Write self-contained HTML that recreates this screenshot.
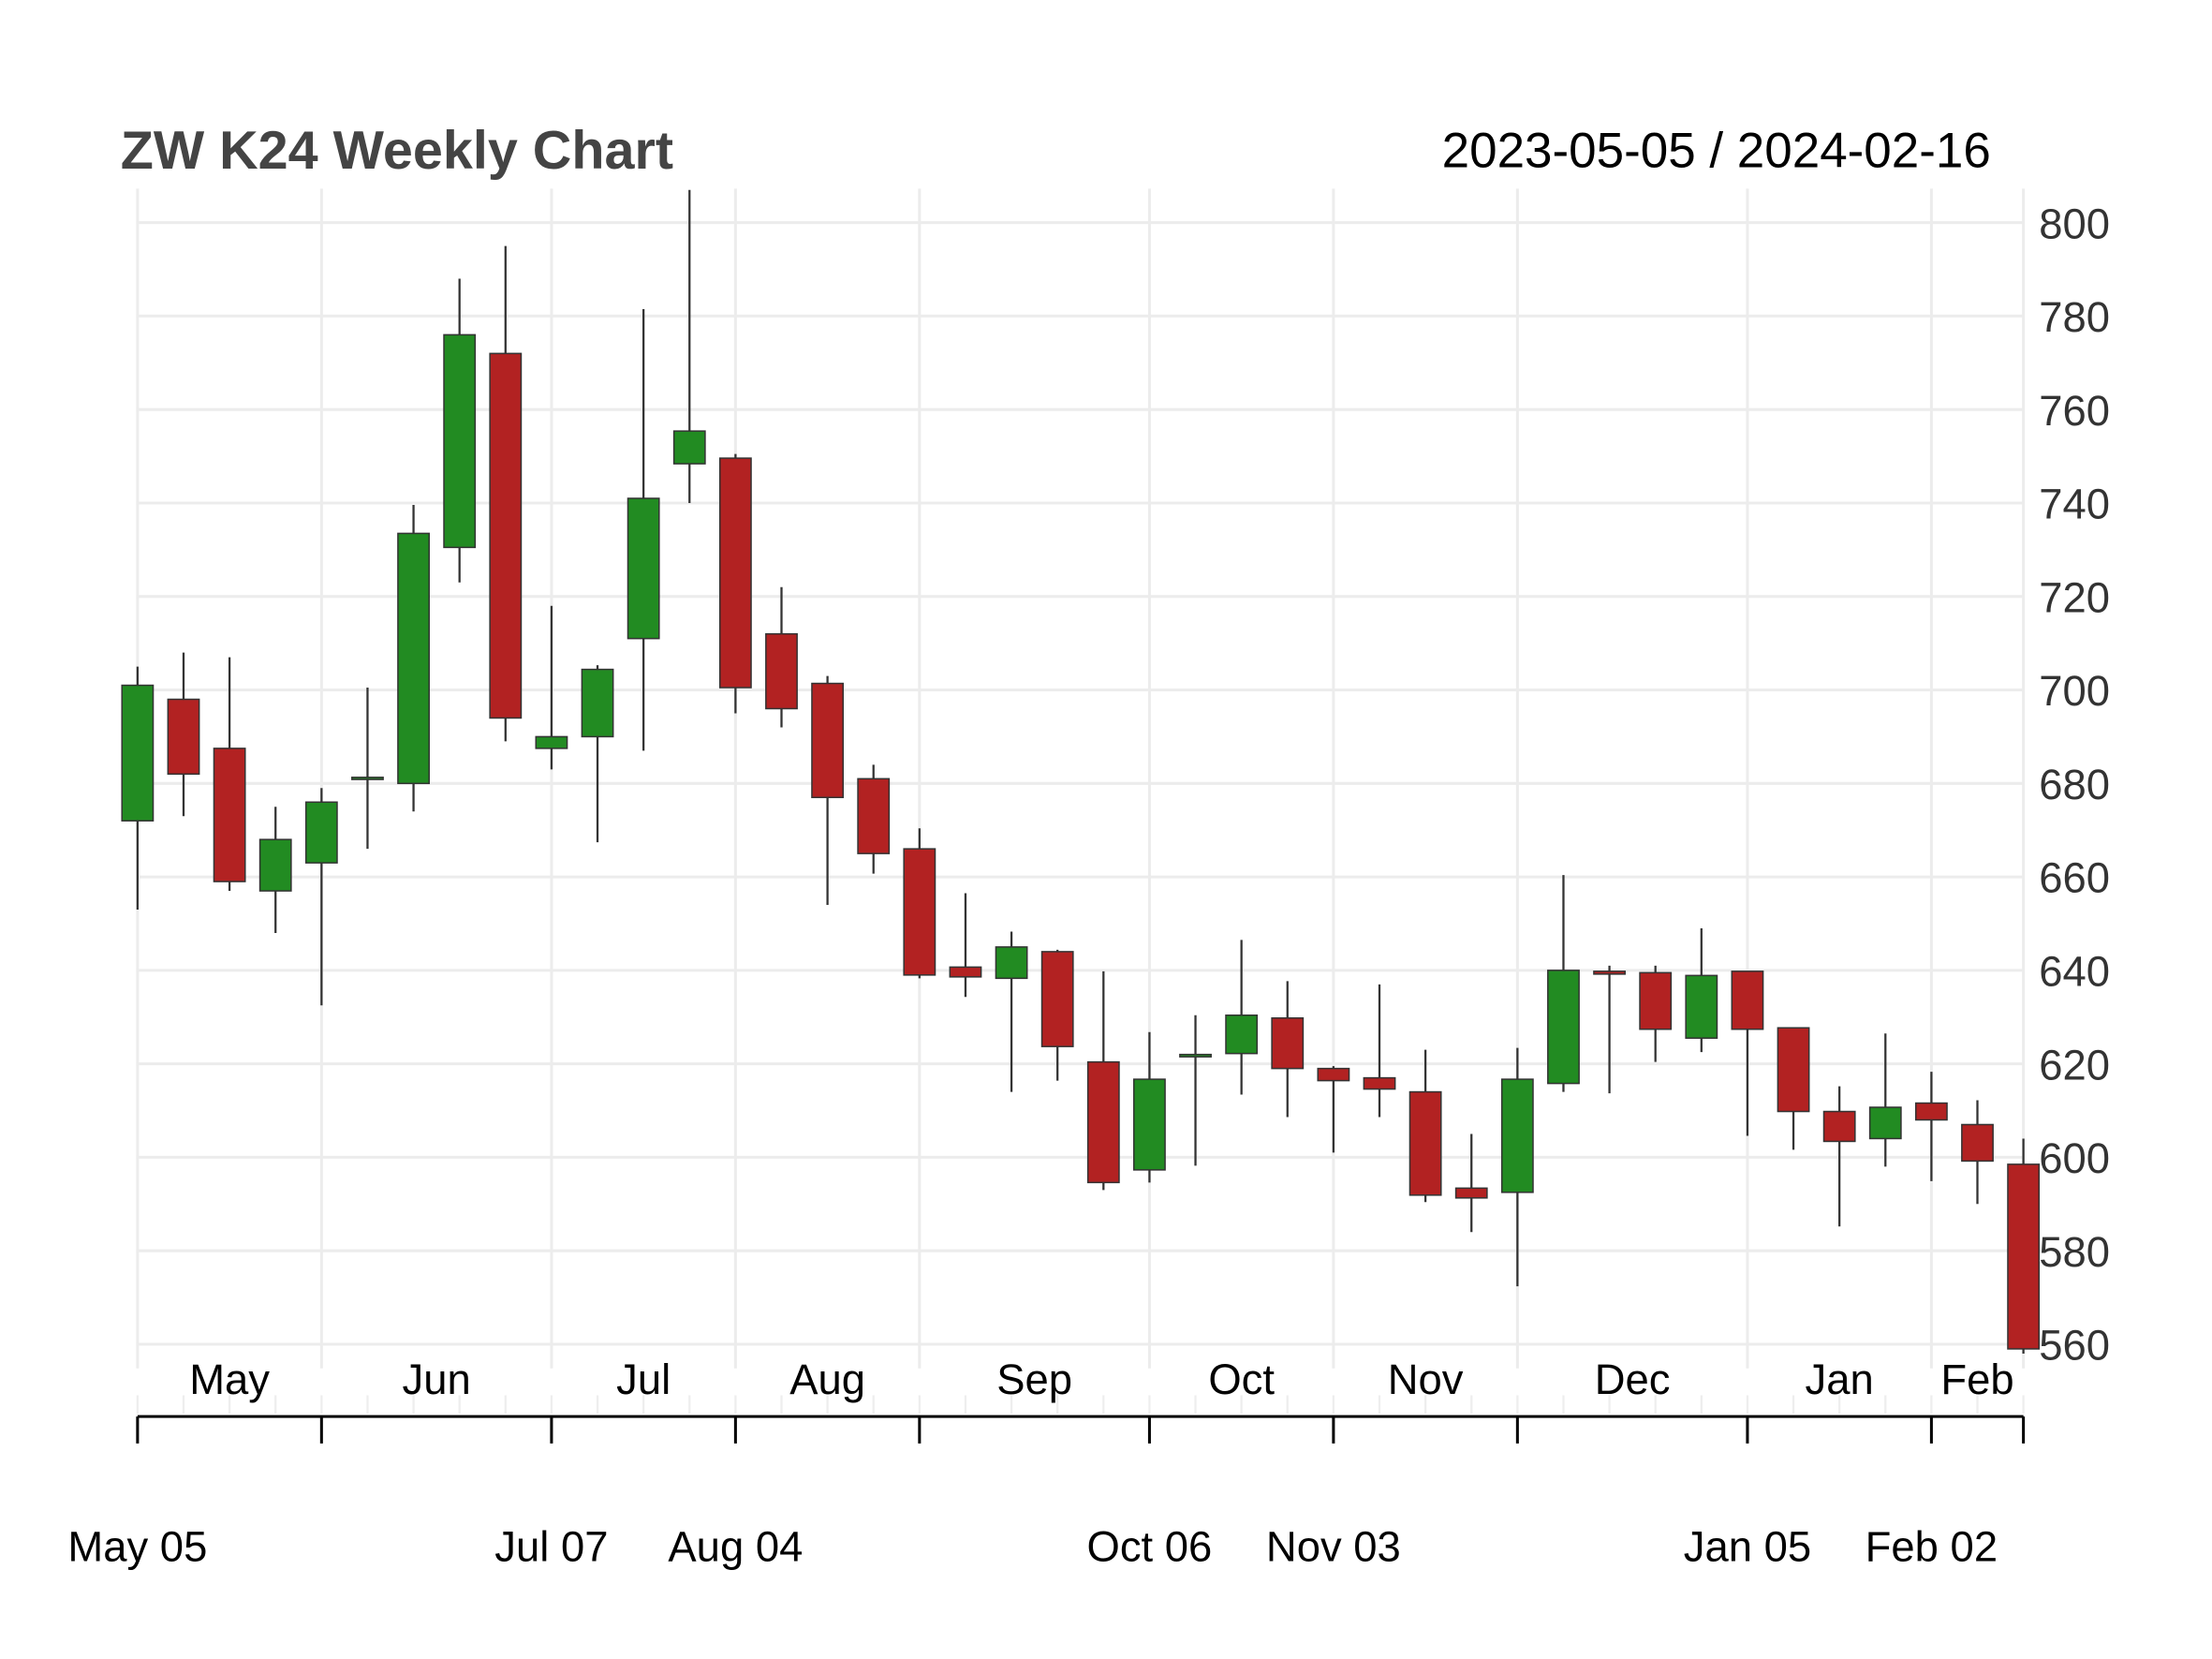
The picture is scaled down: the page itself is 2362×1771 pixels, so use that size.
<!DOCTYPE html>
<html><head><meta charset="utf-8"><style>
html,body{margin:0;padding:0;background:#fff;}
svg{display:block;font-family:"Liberation Sans",Arial,sans-serif;}
</style></head><body>
<svg id="chart" width="2362" height="1771" viewBox="0 0 1560 1170" preserveAspectRatio="none" xmlns="http://www.w3.org/2000/svg">
<rect width="1560" height="1170" fill="#fff"/>
<text x="85" y="119" font-size="38" font-weight="bold" fill="#444">ZW K24 Weekly Chart</text>
<text x="1404" y="118" font-size="35" text-anchor="end" fill="#000">2023-05-05 / 2024-02-16</text>
<g id="grid"></g><g id="axes"></g><g id="candles"></g>
</svg>
<script>
const opens  = [672,698,687.5,657,663,681,680,730.5,772,687.5,690,711,748.4,749.6,712,701.4,681,666,640.7,638.3,644,620.4,597.3,621.5,622.2,629.8,619,617,614,593.4,592.5,615.8,639.8,639.5,625.5,639.8,627.7,609.8,604,611.6,607,598.5];
const closes = [701,682,659,668,676,681.3,733.5,776,694,690,704.4,741,755.4,700.5,696,677,665,639,638.6,645,623.7,594.6,616.7,622,630.4,619,616.4,614.6,591.9,591.3,616.7,640,639.2,627.4,638.9,627.4,609.8,603.4,610.7,608,599.2,559];
const highs  = [705,708,707,675,679,700.5,739.6,788,795,718,705.3,781.5,807,750.5,722,703,684,670.4,656.5,648.3,644.4,639.8,626.8,630.4,646.5,637.7,619.5,637,623,605,623.4,660.4,641,641,649,639.8,627.7,615.2,626.5,618.3,612.2,604];
const lows   = [653,673,657,648,632.5,666,674,723,689,683,667.4,687,740,695,692,654,660.7,638.3,634.3,614,616.4,593,594.6,598.2,613.4,608.6,601,608.6,590.4,584,572.4,614,613.7,620.4,622.5,604.6,601.6,585.2,598,594.9,590,558];
const yTicks = [560,580,600,620,640,660,680,700,720,740,760,780,800];
const monthLabels = ["May","Jun","Jul","Aug","Sep","Oct","Nov","Dec","Jan","Feb"];
const monthLabelIdx = [2,6.5,11,15,19.5,24,28,32.5,37,40];
const majorIdx = [0,4,9,13,17,22,26,30,35,39,41];
const majorLabels = ["May 05","","Jul 07","Aug 04","","Oct 06","Nov 03","","Jan 05","Feb 02",""];

const NS="http://www.w3.org/2000/svg";
const X0=97, X1=1427, N=opens.length;
const xs=i=>X0+i*(X1-X0)/(N-1);
const ys=p=>157+(800-p)*(948-157)/240;
function mk(tag,attrs,parent){const e=document.createElementNS(NS,tag);for(const k in attrs)e.setAttribute(k,attrs[k]);document.getElementById(parent).appendChild(e);return e;}

yTicks.forEach(v=>{
  const l=mk('line',{x1:X0,x2:X1,y1:ys(v),y2:ys(v),stroke:'#ececec','stroke-width':2},'grid');
  
  
  const t=mk('text',{x:1438,y:ys(v)+11,'font-size':30,fill:'#333'},'axes');
  t.textContent=v;
  
  
});
majorIdx.forEach((i,k)=>{
  const g=mk('line',{x1:xs(i),x2:xs(i),y1:133,y2:965,stroke:'#ececec','stroke-width':2},'grid');
  
  
  const t=mk('line',{x1:xs(i),x2:xs(i),y1:999,y2:1018,stroke:'#000','stroke-width':2},'axes');
  
  
  if(majorLabels[k]){
    const tx=mk('text',{x:xs(i),y:1101,'font-size':30,'text-anchor':'middle',fill:'#000'},'axes');
    tx.textContent=majorLabels[k];
    
    
  }
});
for(let i=0;i<N;i++){
  const m=mk('line',{x1:xs(i),x2:xs(i),y1:984,y2:997,stroke:'#eeeeee','stroke-width':1.5},'grid');
  
  
}
monthLabels.forEach((s,k)=>{
  const t=mk('text',{x:xs(monthLabelIdx[k]),y:983,'font-size':30,'text-anchor':'middle',fill:'#000'},'axes');
  t.textContent=s;
  
  
});
const ax=mk('line',{x1:X0,x2:X1,y1:999,y2:999,stroke:'#000','stroke-width':2},'axes');



for(let i=0;i<N;i++){
  const up=closes[i]>=opens[i];
  const col=up?'#228B22':'#B22222';
  const w=mk('line',{x1:xs(i),x2:xs(i),y1:ys(highs[i]),y2:ys(lows[i]),stroke:'#333','stroke-width':1.5},'candles');
  
  
  const top=ys(Math.max(opens[i],closes[i])), bot=ys(Math.min(opens[i],closes[i]));
  const r=mk('rect',{x:xs(i)-11,y:top,width:22,height:Math.max(bot-top,1.5),fill:col,stroke:'#333','stroke-width':1},'candles');
  
  
}
</script>
</body></html>
